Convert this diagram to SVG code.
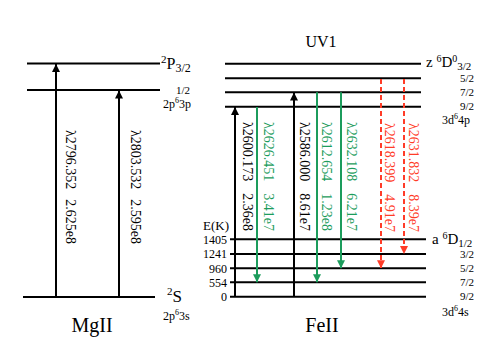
<svg xmlns="http://www.w3.org/2000/svg" width="485" height="363" viewBox="0 0 485 363">
<style>
text{font-family:"Liberation Serif","Times New Roman",serif;fill:#000}
.lv{stroke:#000;stroke-width:2;fill:none}
.ar{stroke:#000;stroke-width:2;fill:none;marker-end:url(#ab)}
.gr{stroke:#1c9c5c;stroke-width:2;fill:none;marker-end:url(#ag)}
.rd{stroke:#ff3c28;stroke-width:2;fill:none;stroke-dasharray:5,3;marker-end:url(#ar)}
.lab{font-size:14px}
.g{fill:#1c9c5c}
.r{fill:#ff3c28}
.j{font-size:11px}
.t{font-size:12px;text-anchor:end}
</style>
<defs>
<marker id="ab" viewBox="0 0 10 10" refX="10" refY="5" markerWidth="10" markerHeight="8" markerUnits="userSpaceOnUse" orient="auto"><path d="M0,0L10,5L0,10z" fill="#000"/></marker>
<marker id="ag" viewBox="0 0 10 10" refX="10" refY="5" markerWidth="10" markerHeight="8" markerUnits="userSpaceOnUse" orient="auto"><path d="M0,0L10,5L0,10z" fill="#1c9c5c"/></marker>
<marker id="ar" viewBox="0 0 10 10" refX="10" refY="5" markerWidth="10" markerHeight="8" markerUnits="userSpaceOnUse" orient="auto"><path d="M0,0L10,5L0,10z" fill="#ff3c28"/></marker>
</defs>

<g id="mg-levels">
<line class="lv" x1="27" y1="63.5" x2="160" y2="63.5"/>
<line class="lv" x1="27" y1="90" x2="160" y2="90"/>
<line class="lv" x1="23" y1="297" x2="155" y2="297"/>
<text x="161" y="69" font-size="16"><tspan font-size="11" dy="-6">2</tspan><tspan dy="6">P</tspan><tspan font-size="12" dy="3">3/2</tspan></text>
<text x="190" y="94" class="j" text-anchor="end">1/2</text>
<text x="163" y="108" font-size="12">2p<tspan font-size="8" dy="-5">6</tspan><tspan dy="5">3p</tspan></text>
<text x="167" y="302" font-size="17"><tspan font-size="11" dy="-7">2</tspan><tspan dy="7">S</tspan></text>
<text x="163" y="320" font-size="12">2p<tspan font-size="8" dy="-5">6</tspan><tspan dy="5">3s</tspan></text>
<text x="92" y="332" font-size="20" text-anchor="middle">MgII</text>
</g>

<g id="fe-levels">
<text x="321" y="47" font-size="16" text-anchor="middle">UV1</text>
<line class="lv" x1="225" y1="63.7" x2="421" y2="63.7"/>
<line class="lv" x1="225" y1="78.3" x2="421" y2="78.3"/>
<line class="lv" x1="225" y1="92.3" x2="421" y2="92.3"/>
<line class="lv" x1="225" y1="106.7" x2="421" y2="106.7"/>
<text x="426" y="67" font-size="15">z <tspan font-size="10" dy="-5">6</tspan><tspan dy="5">D</tspan><tspan font-size="10" dy="-5">0</tspan><tspan font-size="11" dy="8">3/2</tspan></text>
<text x="474" y="82" class="j" text-anchor="end">5/2</text>
<text x="474" y="96" class="j" text-anchor="end">7/2</text>
<text x="474" y="110" class="j" text-anchor="end">9/2</text>
<text x="442" y="124" font-size="12">3d<tspan font-size="8" dy="-5">6</tspan><tspan dy="5">4p</tspan></text>

<line class="lv" x1="230" y1="239.3" x2="426" y2="239.3"/>
<line class="lv" x1="230" y1="254" x2="426" y2="254"/>
<line class="lv" x1="230" y1="268.3" x2="426" y2="268.3"/>
<line class="lv" x1="230" y1="282.3" x2="426" y2="282.3"/>
<line class="lv" x1="230" y1="296.7" x2="426" y2="296.7"/>
<text x="432" y="244" font-size="15">a <tspan font-size="10" dy="-5">6</tspan><tspan dy="5">D</tspan><tspan font-size="11" dy="3">1/2</tspan></text>
<text x="474" y="258" class="j" text-anchor="end">3/2</text>
<text x="474" y="272" class="j" text-anchor="end">5/2</text>
<text x="474" y="286" class="j" text-anchor="end">7/2</text>
<text x="474" y="300" class="j" text-anchor="end">9/2</text>
<text x="442" y="316" font-size="12">3d<tspan font-size="8" dy="-5">6</tspan><tspan dy="5">4s</tspan></text>
<text x="322" y="332" font-size="20" text-anchor="middle">FeII</text>

<text x="203" y="230" font-size="13">E(K)</text>
<text x="227" y="243.5" class="t">1405</text>
<text x="227" y="258" class="t">1241</text>
<text x="227" y="272.5" class="t">960</text>
<text x="227" y="286.5" class="t">554</text>
<text x="227" y="301" class="t">0</text>
</g>

<g id="connectors">
<line class="ar" x1="56" y1="297" x2="56" y2="64"/>
<line class="ar" x1="119" y1="297" x2="119" y2="90.5"/>
<line class="ar" x1="235" y1="297" x2="235" y2="107"/>
<line class="ar" x1="294" y1="297" x2="294" y2="92.5"/>
<line class="gr" x1="257" y1="107" x2="257" y2="282.3"/>
<line class="gr" x1="317" y1="92.3" x2="317" y2="282.3"/>
<line class="gr" x1="341" y1="92.3" x2="341" y2="268.3"/>
<line class="rd" x1="381" y1="79" x2="381" y2="268.3"/>
<line class="rd" x1="404" y1="79" x2="404" y2="254"/>
</g>

<g id="labels">
<text class="lab" transform="translate(66,130) rotate(90)">λ2796.352<tspan dx="10">2.625e8</tspan></text>
<text class="lab" transform="translate(131,130) rotate(90)">λ2803.532<tspan dx="10">2.595e8</tspan></text>
<text class="lab" transform="translate(243,122) rotate(90)">λ2600.173<tspan dx="12">2.36e8</tspan></text>
<text class="lab g" transform="translate(264,122) rotate(90)">λ2626.451<tspan dx="12">3.41e7</tspan></text>
<text class="lab" transform="translate(300,122) rotate(90)">λ2586.000<tspan dx="12">8.61e7</tspan></text>
<text class="lab g" transform="translate(322,122) rotate(90)">λ2612.654<tspan dx="12">1.23e8</tspan></text>
<text class="lab g" transform="translate(347,122) rotate(90)">λ2632.108<tspan dx="12">6.21e7</tspan></text>
<text class="lab r" transform="translate(385,123) rotate(90)">λ2618.399<tspan dx="12">4.91e7</tspan></text>
<text class="lab r" transform="translate(409,123) rotate(90)">λ2631.832<tspan dx="12">8.39e7</tspan></text>
</g>
</svg>
